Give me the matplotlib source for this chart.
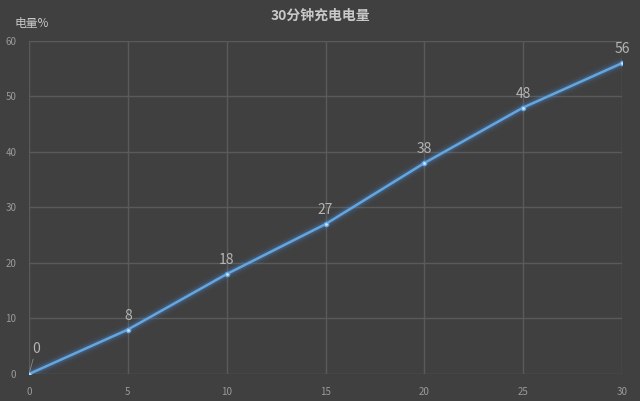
import matplotlib.pyplot as plt

plt.rcParams['font.family'] = ['Noto Sans CJK SC', 'DejaVu Sans']

# 数据
minutes = [0, 5, 10, 15, 20, 25, 30]
charge = [0, 8, 18, 27, 38, 48, 56]
xticks = [0, 5, 10, 15, 20, 25, 30]
yticks = [0, 10, 20, 30, 40, 50, 60]

bg = "#404040"
grid_c = "#5a5a5a"
tick_c = "#9a9a9a"
line_c = "#64a6e0"

fig = plt.figure(figsize=(6.4, 4.01), dpi=100, facecolor=bg)
ax = fig.add_axes([0.0453, 0.0673, 0.9267, 0.8307], facecolor=bg)

# glow
for lw, a in [(9, 0.06), (6, 0.1), (4, 0.18)]:
    ax.plot(minutes, charge, color="#4a90e2", lw=lw, alpha=a, solid_capstyle="round")
ax.plot(minutes, charge, color=line_c, lw=1.8, marker="o", markersize=3,
        markerfacecolor="#cfe6ff", markeredgecolor=line_c)

ax.set_xlim(0, 30)
ax.set_ylim(0, 60)
ax.set_xticks(xticks)
ax.set_yticks(yticks)
ax.grid(True, color=grid_c, lw=1.0)
for s in ax.spines.values():
    s.set_visible(False)
ax.tick_params(colors=tick_c, labelsize=7, length=0, pad=9)

# 数据标签
for x, y in zip(minutes, charge):
    if x == 0:
        ax.annotate(str(y), (x, y), xytext=(5, 15), textcoords="offset points",
                    color="#b4b4b4", fontsize=10, ha="center",
                    arrowprops=dict(arrowstyle="-", color="#8a8a8a", lw=0.6,
                                    shrinkA=0, shrinkB=2))
    else:
        ax.annotate(str(y), (x, y), xytext=(0, 5), textcoords="offset points",
                    color="#b4b4b4", fontsize=10, ha="center", va="bottom")

fig.text(0.5, 0.962, "30分钟充电电量", color="#c8c8c8", fontsize=10,
         fontweight="bold", ha="center", va="center")
fig.text(0.022, 0.942, "电量%", color="#c8c8c8", fontsize=8.5, ha="left", va="center")

plt.savefig("out.png", facecolor=bg)
